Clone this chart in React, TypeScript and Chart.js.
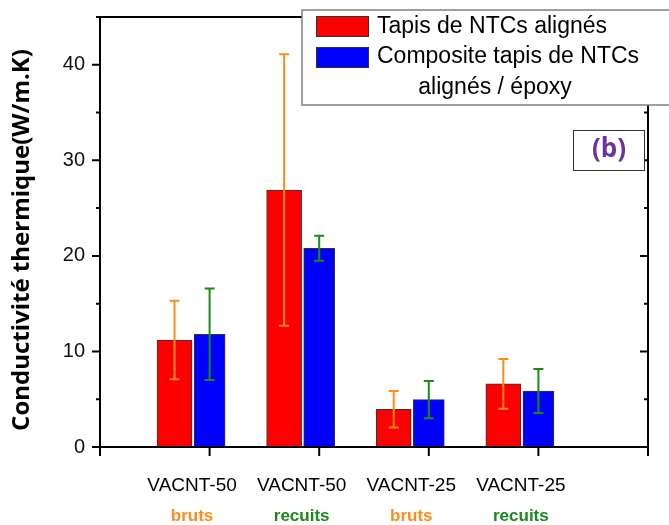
import React, { useEffect, useRef } from 'react';
import { Chart, registerables } from 'chart.js';

Chart.register(...registerables);

// ---- data ----
const categories = ['VACNT-50', 'VACNT-50', 'VACNT-25', 'VACNT-25'];
const treatments = ['bruts', 'recuits', 'bruts', 'recuits'];
const tapisValues = [11.2, 26.9, 3.95, 6.6];
const tapisErrors = [4.1, 14.2, 1.9, 2.6];
const compositeValues = [11.8, 20.8, 4.95, 5.85];
const compositeErrors = [4.8, 1.3, 1.95, 2.3];
const yMajorTicks = [0, 10, 20, 30, 40];
const yMinorTicks = [5, 15, 25, 35, 45];
const xTicks = [0, 1, 2, 3, 4, 5];
const seriesNames = ['Tapis de NTCs alignés', 'Composite tapis de NTCs alignés / époxy'];
const yTitle = 'Conductivité thermique(W/m.K)';
const panelLabel = '(b)';

// ---- styles ----
const RED = '#ff0000';
const BLUE = '#0000ff';
const ORANGE = '#ff8c1a';
const GREEN = '#1a8a1a';
const PURPLE = '#7030a0';
const RED_OFFSET = -0.32;
const SANS = '"Liberation Sans", Arial, sans-serif';
const HUMAN = '"Open Sans", Lato, sans-serif';

const overlay = {
  id: 'overlay',
  afterDatasetsDraw(chart: any) {
    const ctx = chart.ctx;
    const xs = chart.scales.x;
    const ys = chart.scales.y;
    const { left, right, top, bottom } = chart.chartArea;

    // error bars
    const errSets = [
      { vals: tapisValues, errs: tapisErrors, color: ORANGE },
      { vals: compositeValues, errs: compositeErrors, color: GREEN },
    ];
    errSets.forEach((s, di) => {
      const meta = chart.getDatasetMeta(di);
      ctx.save();
      ctx.strokeStyle = s.color;
      ctx.lineWidth = 2;
      meta.data.forEach((bar: any, j: number) => {
        const x = bar.x;
        const y1 = ys.getPixelForValue(s.vals[j] + s.errs[j]);
        const y2 = ys.getPixelForValue(s.vals[j] - s.errs[j]);
        ctx.beginPath();
        ctx.moveTo(x, y1);
        ctx.lineTo(x, y2);
        ctx.moveTo(x - 5, y1);
        ctx.lineTo(x + 5, y1);
        ctx.moveTo(x - 5, y2);
        ctx.lineTo(x + 5, y2);
        ctx.stroke();
      });
      ctx.restore();
    });

    // frame
    ctx.save();
    ctx.strokeStyle = '#000';
    ctx.lineWidth = 2;
    ctx.beginPath();
    ctx.rect(left, top, right - left, bottom - top);
    ctx.stroke();
    ctx.beginPath();
    yMajorTicks.forEach((v) => {
      const y = ys.getPixelForValue(v);
      ctx.moveTo(left - 8, y);
      ctx.lineTo(left, y);
      ctx.moveTo(right - 8, y);
      ctx.lineTo(right, y);
    });
    yMinorTicks.forEach((v) => {
      const y = ys.getPixelForValue(v);
      ctx.moveTo(left - 4, y);
      ctx.lineTo(left, y);
      ctx.moveTo(right - 4, y);
      ctx.lineTo(right, y);
    });
    xTicks.forEach((v) => {
      const x = xs.getPixelForValue(v);
      ctx.moveTo(x, bottom);
      ctx.lineTo(x, bottom + 9);
    });
    ctx.stroke();
    ctx.restore();

    // category labels
    ctx.save();
    ctx.textAlign = 'center';
    ctx.textBaseline = 'middle';
    categories.forEach((c, i) => {
      const x = xs.getPixelForValue(i + 1 + RED_OFFSET / 2);
      ctx.font = `19px ${SANS}`;
      ctx.fillStyle = '#000';
      ctx.fillText(c, x, 486);
      ctx.font = `bold 17px ${SANS}`;
      ctx.fillStyle = treatments[i] === 'bruts' ? ORANGE : GREEN;
      ctx.fillText(treatments[i], x, 516);
    });
    ctx.restore();

    // y title
    ctx.save();
    ctx.translate(22, 240);
    ctx.rotate(-Math.PI / 2);
    ctx.textAlign = 'center';
    ctx.textBaseline = 'middle';
    ctx.font = `bold 24px ${HUMAN}`;
    ctx.fillStyle = '#000';
    ctx.fillText(yTitle, 0, 0);
    ctx.restore();

    // legend box
    ctx.save();
    ctx.fillStyle = '#fff';
    ctx.strokeStyle = '#808080';
    ctx.lineWidth = 1.5;
    ctx.beginPath();
    ctx.rect(302, 10, 400, 95);
    ctx.fill();
    ctx.stroke();
    ctx.lineWidth = 1;
    ctx.strokeStyle = '#333';
    ctx.fillStyle = RED;
    ctx.fillRect(316, 16, 53, 21);
    ctx.strokeRect(316.5, 16.5, 52, 20);
    ctx.fillStyle = BLUE;
    ctx.fillRect(316, 47, 53, 21);
    ctx.strokeRect(316.5, 47.5, 52, 20);
    ctx.fillStyle = '#000';
    ctx.font = `23px ${SANS}`;
    ctx.textBaseline = 'middle';
    ctx.textAlign = 'left';
    ctx.fillText(seriesNames[0], 377, 27);
    const words = seriesNames[1].split(' ');
    ctx.fillText(words.slice(0, 4).join(' '), 377, 57);
    ctx.textAlign = 'center';
    ctx.fillText(words.slice(4).join(' '), 495, 88);
    ctx.restore();

    // panel label
    ctx.save();
    ctx.fillStyle = '#fff';
    ctx.strokeStyle = '#333';
    ctx.lineWidth = 1;
    ctx.fillRect(573, 130, 72, 41);
    ctx.strokeRect(573.5, 130.5, 71, 40);
    ctx.fillStyle = PURPLE;
    ctx.font = `bold 26px ${HUMAN}`;
    ctx.textAlign = 'center';
    ctx.textBaseline = 'middle';
    ctx.fillText(panelLabel, 609, 150);
    ctx.restore();
  },
};

export default function App() {
  const ref = useRef<HTMLCanvasElement | null>(null);
  useEffect(() => {
    if (!ref.current) return;
    const chart = new Chart(ref.current, {
      type: 'bar',
      data: {
        datasets: [
          {
            label: seriesNames[0],
            data: tapisValues.map((v, i) => ({ x: i + 1 + RED_OFFSET, y: v })),
            backgroundColor: RED,
            borderColor: '#333',
            borderWidth: 1,
            barThickness: 35,
            grouped: false,
          } as any,
          {
            label: seriesNames[1],
            data: compositeValues.map((v, i) => ({ x: i + 1, y: v })),
            backgroundColor: BLUE,
            borderColor: '#333',
            borderWidth: 1,
            barThickness: 31,
            grouped: false,
          } as any,
        ],
      },
      options: {
        responsive: false,
        animation: false,
        devicePixelRatio: 1,
        layout: { padding: { top: 17, right: 21, left: 0, bottom: 0 } },
        plugins: { legend: { display: false }, tooltip: { enabled: false } },
        scales: {
          x: {
            type: 'linear',
            offset: false,
            min: 0,
            max: 5,
            grid: { display: false, drawTicks: false, offset: false },
            border: { display: false },
            ticks: { display: false, stepSize: 1 },
            afterFit: (s: any) => {
              s.height = 78;
            },
          },
          y: {
            type: 'linear',
            min: 0,
            max: 45,
            grid: { display: false, drawTicks: true, tickLength: 15 },
            border: { display: false },
            ticks: {
              stepSize: 10,
              padding: 0,
              color: '#111',
              font: { family: SANS, size: 20 },
              callback: (v: any) => String(v),
            },
            afterBuildTicks: (s: any) => {
              s.ticks = s.ticks.filter((t: any) => yMajorTicks.includes(t.value));
            },
            afterFit: (s: any) => {
              s.width = 100;
            },
          },
        },
      },
      plugins: [overlay],
    } as any);
    return () => chart.destroy();
  }, []);
  return (
    <div style={{ position: 'fixed', left: 0, top: 0, width: 669, height: 525, background: '#fff' }}>
      <canvas ref={ref} width={669} height={525} />
    </div>
  );
}
